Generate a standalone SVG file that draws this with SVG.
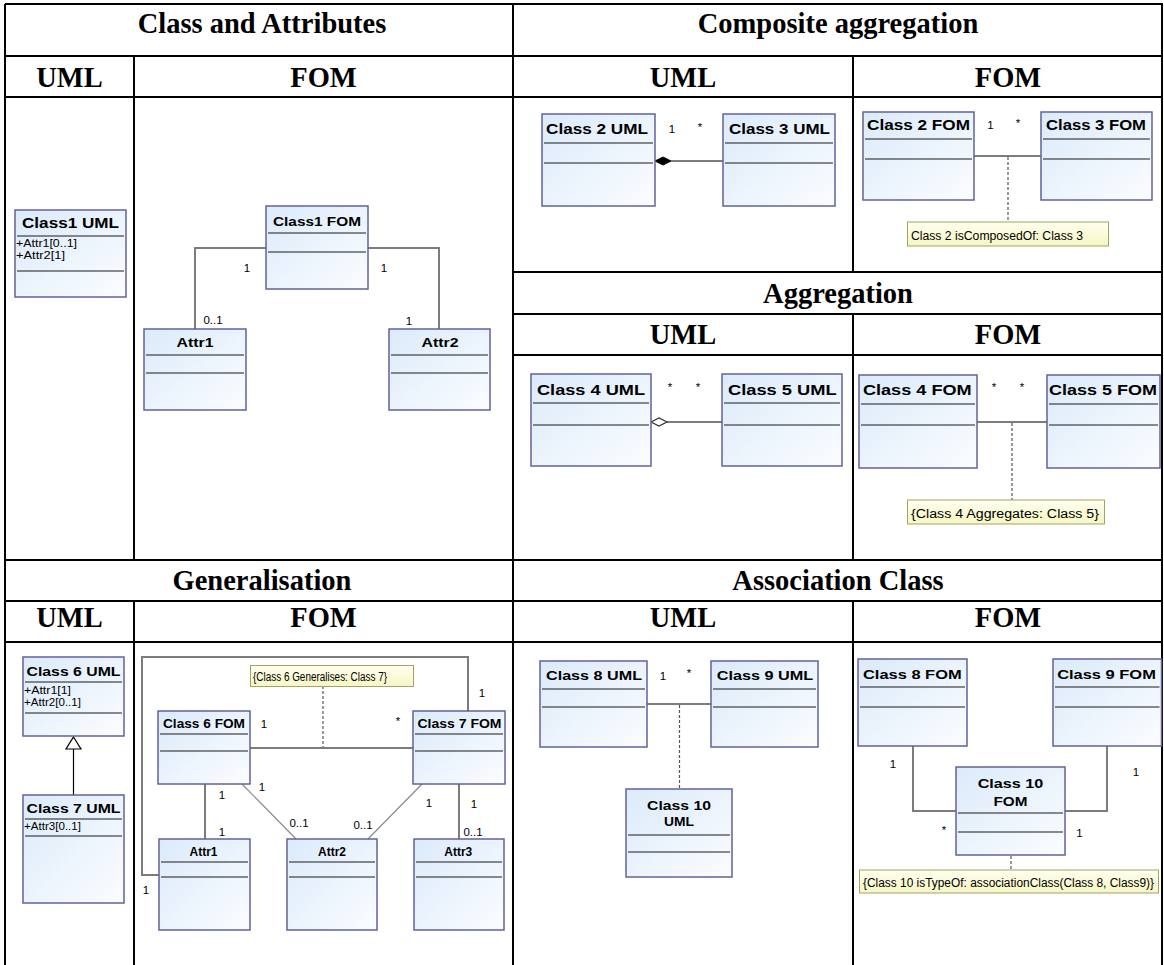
<svg xmlns="http://www.w3.org/2000/svg" width="1164" height="965" viewBox="0 0 1164 965">
<defs>
<linearGradient id="cg" x1="0" y1="0" x2="1" y2="1"><stop offset="0" stop-color="#dbeafa"/><stop offset="1" stop-color="#fbfdff"/></linearGradient>
<linearGradient id="ng" x1="0" y1="0" x2="0" y2="1"><stop offset="0" stop-color="#fffff0"/><stop offset="1" stop-color="#f6f6c4"/></linearGradient>
<style>
.grid{stroke:#000;stroke-width:2;fill:none}
.h1{font-family:"Liberation Serif","Times New Roman",serif;font-weight:bold;font-size:28.5px;text-anchor:middle;fill:#000}
.cls{fill:url(#cg);stroke:#62629e;stroke-width:1.5}
.sep{stroke:#1a1a1a;stroke-width:1.2}
.nm{font-family:"Liberation Sans",Arial,sans-serif;font-weight:bold;font-size:13.5px;text-anchor:middle;fill:#000}
.big{font-size:15px}
.at{font-family:"Liberation Sans",Arial,sans-serif;font-size:11px;fill:#000}
.lb{font-family:"Liberation Sans",Arial,sans-serif;font-size:11.5px;text-anchor:middle;fill:#000}
.conn{stroke:#7c7c7c;stroke-width:2;fill:none}
.thin{stroke:#8a8a8a;stroke-width:1.2;fill:none}
.dot{stroke:#555;stroke-width:1.2;stroke-dasharray:3 2;fill:none}
.note{fill:url(#ng);stroke:#a4a460;stroke-width:1}
.nt{font-family:"Liberation Sans",Arial,sans-serif;font-size:12px;fill:#000}
</style>
</defs>
<rect x="0" y="0" width="1164" height="965" fill="#fff"/>

<g id="table">
<path class="grid" d="M5,4 H1163 M5,56 H1163 M5,97 H1163 M513,272 H1163 M513,314 H1163 M513,355 H1163 M5,560 H1163 M5,601 H1163 M5,642 H1163"/>
<path class="grid" d="M5,4 V965 M134,56 V560 M134,601 V965 M513,4 V965 M853,56 V272 M853,314 V560 M853,601 V965 M1162,4 V965"/>
<text class="h1" x="262" y="33">Class and Attributes</text>
<text class="h1" x="838" y="33">Composite aggregation</text>
<text class="h1" x="69.5" y="87">UML</text>
<text class="h1" x="323.5" y="87">FOM</text>
<text class="h1" x="683" y="87">UML</text>
<text class="h1" x="1008" y="87">FOM</text>
<text class="h1" x="838" y="303">Aggregation</text>
<text class="h1" x="683" y="344">UML</text>
<text class="h1" x="1008" y="344">FOM</text>
<text class="h1" x="262" y="590">Generalisation</text>
<text class="h1" x="838" y="590">Association Class</text>
<text class="h1" x="69.5" y="627">UML</text>
<text class="h1" x="323.5" y="627">FOM</text>
<text class="h1" x="683" y="627">UML</text>
<text class="h1" x="1008" y="627">FOM</text>
</g>

<g id="connectors">
<path class="conn" d="M266,248 H195 V329 M368,248 H439 V329"/>
<path class="conn" d="M671,161 H723"/>
<path d="M655,161 L663,157 L671,161 L663,165 Z" fill="#000" stroke="#000" stroke-width="1"/>
<path class="conn" d="M974,156 H1041"/>
<path class="dot" d="M1008,157 V222"/>
<path class="conn" d="M667,422 H722"/>
<path d="M651,422 L659,418 L667,422 L659,426 Z" fill="#fff" stroke="#333" stroke-width="1.2"/>
<path class="conn" d="M977,422 H1047"/>
<path class="dot" d="M1012,423 V500"/>
<path d="M73.5,749 V795" stroke="#000" stroke-width="1.2" fill="none"/>
<path d="M73.5,737 L81,749 L66,749 Z" fill="#fff" stroke="#000" stroke-width="1.2"/>
<path class="conn" d="M250,748 H413"/>
<path class="dot" d="M323,686 V747"/>
<path class="conn" d="M159,875 H142 V657 H468 V711"/>
<path class="conn" d="M205,784 V839 M459,784 V839"/>
<path class="thin" d="M242,784 L296,839 M422,784 L368,839"/>
<path class="conn" d="M647,704 H711"/>
<path class="dot" d="M679.5,705 V789"/>
<path class="conn" d="M913,746 V811 H956 M1107,746 V811 H1065"/>
<path class="dot" d="M1011,856 V870"/>
</g>

<g id="labels">
<text class="lb" x="247" y="271.5">1</text>
<text class="lb" x="384" y="271.5">1</text>
<text class="lb" x="213" y="323.5">0..1</text>
<text class="lb" x="409" y="325">1</text>
<text class="lb" x="672" y="133">1</text>
<text class="lb" x="700" y="131">*</text>
<text class="lb" x="990.5" y="129">1</text>
<text class="lb" x="1018" y="127">*</text>
<text class="lb" x="670" y="391">*</text>
<text class="lb" x="698" y="391">*</text>
<text class="lb" x="994" y="391">*</text>
<text class="lb" x="1022" y="391">*</text>
<text class="lb" x="264" y="728">1</text>
<text class="lb" x="398" y="725">*</text>
<text class="lb" x="482" y="696.5">1</text>
<text class="lb" x="222" y="799">1</text>
<text class="lb" x="222" y="836">1</text>
<text class="lb" x="262" y="790.5">1</text>
<text class="lb" x="299" y="827">0..1</text>
<text class="lb" x="429" y="806.5">1</text>
<text class="lb" x="363" y="829">0..1</text>
<text class="lb" x="474" y="808">1</text>
<text class="lb" x="473" y="836">0..1</text>
<text class="lb" x="146" y="894">1</text>
<text class="lb" x="663" y="680">1</text>
<text class="lb" x="689" y="677">*</text>
<text class="lb" x="893" y="768">1</text>
<text class="lb" x="1136" y="776">1</text>
<text class="lb" x="944" y="834">*</text>
<text class="lb" x="1079.5" y="836.5">1</text>
</g>

<g id="class1-uml">
<rect class="cls" x="15" y="210" width="111" height="87"/>
<path class="sep" d="M17,236 H124 M17,271 H124"/>
<text class="nm big" x="70.5" y="228" textLength="97" lengthAdjust="spacingAndGlyphs">Class1 UML</text>
<text class="at" x="16" y="247" textLength="61" lengthAdjust="spacingAndGlyphs">+Attr1[0..1]</text>
<text class="at" x="16" y="258.5" textLength="49" lengthAdjust="spacingAndGlyphs">+Attr2[1]</text>
</g>
<g id="class1-fom">
<rect class="cls" x="266" y="206" width="102" height="83"/>
<path class="sep" d="M268,233 H366 M268,252 H366"/>
<text class="nm" x="317" y="226" textLength="88" lengthAdjust="spacingAndGlyphs">Class1 FOM</text>
</g>
<g id="attr1-ca">
<rect class="cls" x="144" y="329" width="102" height="81"/>
<path class="sep" d="M146,355 H244 M146,373 H244"/>
<text class="nm" x="195" y="346.5" textLength="37" lengthAdjust="spacingAndGlyphs">Attr1</text>
</g>
<g id="attr2-ca">
<rect class="cls" x="389" y="329" width="101" height="81"/>
<path class="sep" d="M391,355 H488 M391,373 H488"/>
<text class="nm" x="440" y="346.5" textLength="37" lengthAdjust="spacingAndGlyphs">Attr2</text>
</g>

<g id="class2-uml">
<rect class="cls" x="542" y="114" width="113" height="92"/>
<path class="sep" d="M544,143 H653 M544,163 H653"/>
<text class="nm big" x="597" y="134" textLength="102" lengthAdjust="spacingAndGlyphs">Class 2 UML</text>
</g>
<g id="class3-uml">
<rect class="cls" x="723" y="114" width="112" height="92"/>
<path class="sep" d="M725,143 H833 M725,163 H833"/>
<text class="nm big" x="779.5" y="134" textLength="101" lengthAdjust="spacingAndGlyphs">Class 3 UML</text>
</g>
<g id="class2-fom">
<rect class="cls" x="863" y="112" width="111" height="88"/>
<path class="sep" d="M865,139 H972 M865,159 H972"/>
<text class="nm big" x="918.5" y="130" textLength="103" lengthAdjust="spacingAndGlyphs">Class 2 FOM</text>
</g>
<g id="class3-fom">
<rect class="cls" x="1041" y="112" width="111" height="88"/>
<path class="sep" d="M1043,139 H1150 M1043,159 H1150"/>
<text class="nm big" x="1096" y="130" textLength="100" lengthAdjust="spacingAndGlyphs">Class 3 FOM</text>
</g>
<g id="note-composite">
<rect class="note" x="907.5" y="222" width="201" height="24"/>
<text class="nt" x="911" y="239.5" textLength="172" lengthAdjust="spacingAndGlyphs">Class 2 isComposedOf: Class 3</text>
</g>

<g id="class4-uml">
<rect class="cls" x="531" y="374" width="120" height="92"/>
<path class="sep" d="M533,403 H649 M533,425 H649"/>
<text class="nm big" x="591" y="395" textLength="108" lengthAdjust="spacingAndGlyphs">Class 4 UML</text>
</g>
<g id="class5-uml">
<rect class="cls" x="722" y="374" width="120" height="92"/>
<path class="sep" d="M724,403 H840 M724,425 H840"/>
<text class="nm big" x="782.3" y="395" textLength="108.7" lengthAdjust="spacingAndGlyphs">Class 5 UML</text>
</g>
<g id="class4-fom">
<rect class="cls" x="859" y="375" width="118" height="93"/>
<path class="sep" d="M861,404 H975 M861,425 H975"/>
<text class="nm big" x="917.3" y="395" textLength="108.7" lengthAdjust="spacingAndGlyphs">Class 4 FOM</text>
</g>
<g id="class5-fom">
<rect class="cls" x="1047" y="375" width="113" height="93"/>
<path class="sep" d="M1049,404 H1158 M1049,425 H1158"/>
<text class="nm big" x="1103" y="395" textLength="108" lengthAdjust="spacingAndGlyphs">Class 5 FOM</text>
</g>
<g id="note-aggregation">
<rect class="note" x="907.5" y="500" width="197" height="24"/>
<text class="nt" x="911" y="517.5" textLength="188" lengthAdjust="spacingAndGlyphs">{Class 4 Aggregates: Class 5}</text>
</g>

<g id="class6-uml">
<rect class="cls" x="23" y="657" width="101" height="79"/>
<path class="sep" d="M25,682 H122 M25,713 H122"/>
<text class="nm" x="73.5" y="676" textLength="94" lengthAdjust="spacingAndGlyphs">Class 6 UML</text>
<text class="at" x="24" y="694" textLength="47" lengthAdjust="spacingAndGlyphs">+Attr1[1]</text>
<text class="at" x="24" y="705.5" textLength="57" lengthAdjust="spacingAndGlyphs">+Attr2[0..1]</text>
</g>
<g id="class7-uml">
<rect class="cls" x="23" y="795" width="101" height="108"/>
<path class="sep" d="M25,819 H122 M25,836 H122"/>
<text class="nm" x="73.5" y="813" textLength="94" lengthAdjust="spacingAndGlyphs">Class 7 UML</text>
<text class="at" x="24" y="830" textLength="57" lengthAdjust="spacingAndGlyphs">+Attr3[0..1]</text>
</g>
<g id="class6-fom">
<rect class="cls" x="158" y="711" width="92" height="73"/>
<path class="sep" d="M160,734 H248 M160,751 H248"/>
<text class="nm" x="204" y="728" textLength="82" lengthAdjust="spacingAndGlyphs">Class 6 FOM</text>
</g>
<g id="class7-fom">
<rect class="cls" x="413" y="711" width="92" height="73"/>
<path class="sep" d="M415,734 H503 M415,751 H503"/>
<text class="nm" x="459.5" y="728" textLength="84" lengthAdjust="spacingAndGlyphs">Class 7 FOM</text>
</g>
<g id="note-generalisation">
<rect class="note" x="250.5" y="665.5" width="163" height="21"/>
<text class="nt" x="253" y="681" textLength="134" lengthAdjust="spacingAndGlyphs">{Class 6 Generalises: Class 7}</text>
</g>
<g id="attr1-gen">
<rect class="cls" x="159" y="839" width="91" height="91"/>
<path class="sep" d="M161,862 H248 M161,877 H248"/>
<text class="nm" x="203.5" y="855.5" textLength="28" lengthAdjust="spacingAndGlyphs">Attr1</text>
</g>
<g id="attr2-gen">
<rect class="cls" x="287" y="839" width="90" height="91"/>
<path class="sep" d="M289,862 H375 M289,877 H375"/>
<text class="nm" x="332" y="855.5" textLength="28" lengthAdjust="spacingAndGlyphs">Attr2</text>
</g>
<g id="attr3-gen">
<rect class="cls" x="414" y="839" width="90" height="91"/>
<path class="sep" d="M416,862 H502 M416,877 H502"/>
<text class="nm" x="458.3" y="855.5" textLength="28" lengthAdjust="spacingAndGlyphs">Attr3</text>
</g>

<g id="class8-uml">
<rect class="cls" x="540" y="661" width="107" height="86"/>
<path class="sep" d="M542,689 H645 M542,707 H645"/>
<text class="nm" x="594" y="680" textLength="96" lengthAdjust="spacingAndGlyphs">Class 8 UML</text>
</g>
<g id="class9-uml">
<rect class="cls" x="711" y="661" width="107" height="86"/>
<path class="sep" d="M713,689 H816 M713,707 H816"/>
<text class="nm" x="765" y="680" textLength="96.6" lengthAdjust="spacingAndGlyphs">Class 9 UML</text>
</g>
<g id="class10-uml">
<rect class="cls" x="626" y="789" width="106" height="88"/>
<path class="sep" d="M628,835 H730 M628,852 H730"/>
<text class="nm" x="679" y="810" textLength="64" lengthAdjust="spacingAndGlyphs">Class 10</text>
<text class="nm" x="679" y="826" textLength="30" lengthAdjust="spacingAndGlyphs">UML</text>
</g>
<g id="class8-fom">
<rect class="cls" x="858" y="659" width="109" height="87"/>
<path class="sep" d="M860,687 H965 M860,707 H965"/>
<text class="nm" x="912.3" y="679" textLength="98.7" lengthAdjust="spacingAndGlyphs">Class 8 FOM</text>
</g>
<g id="class9-fom">
<rect class="cls" x="1053" y="659" width="108.5" height="87"/>
<path class="sep" d="M1055,687 H1159.5 M1055,707 H1159.5"/>
<text class="nm" x="1106.5" y="679" textLength="98.7" lengthAdjust="spacingAndGlyphs">Class 9 FOM</text>
</g>
<g id="class10-fom">
<rect class="cls" x="956" y="767" width="109" height="88"/>
<path class="sep" d="M958,813 H1063 M958,832 H1063"/>
<text class="nm" x="1010.5" y="788" textLength="65.7" lengthAdjust="spacingAndGlyphs">Class 10</text>
<text class="nm" x="1010.5" y="806" textLength="34" lengthAdjust="spacingAndGlyphs">FOM</text>
</g>
<g id="note-association">
<rect class="note" x="859.5" y="870" width="299" height="23"/>
<text class="nt" x="863" y="886.5" textLength="291" lengthAdjust="spacingAndGlyphs">{Class 10 isTypeOf: associationClass(Class 8, Class9)}</text>
</g>
</svg>
